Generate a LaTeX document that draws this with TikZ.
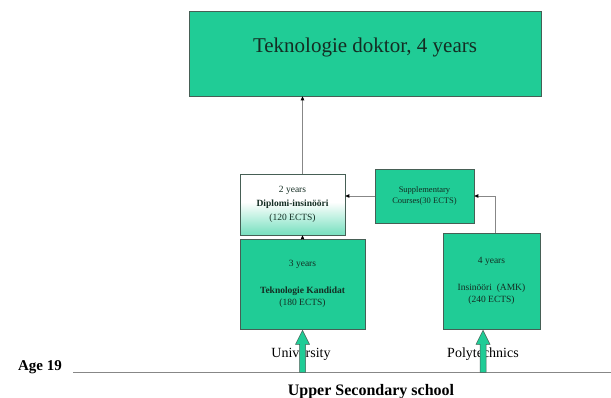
\documentclass[tikz,border=0pt]{standalone}
\usepackage{fontspec}
\setmainfont{Liberation Serif}
\usetikzlibrary{arrows.meta,calc}
\definecolor{boxgreen}{RGB}{32,204,150}
\definecolor{boxedge}{RGB}{70,95,85}
\definecolor{inktext}{RGB}{20,45,35}
\definecolor{rulegray}{RGB}{135,135,135}
% white on top fading into green near the bottom edge
\pgfdeclareverticalshading{dipshade}{100bp}{color(0bp)=(boxgreen); color(28bp)=(boxgreen!55!white); color(52bp)=(white); color(100bp)=(white)}
\begin{document}
\begin{tikzpicture}[x=1pt,y=-1pt,
  box/.style={draw=boxedge, line width=0.6pt, fill=boxgreen, inner sep=0pt,
    align=center, text=inktext, font=\fontsize{9.5}{11}\selectfont},
  thinarrow/.style={draw=rulegray, line width=0.8pt,
    -{Triangle[length=4pt,width=3.5pt,color=black]}},
  greenarrow/.style={fill=boxgreen, draw=boxedge, line width=0.5pt},
  pathlabel/.style={font=\fontsize{14}{16}\selectfont, text=black}]
\useasboundingbox (0,0) rectangle (611,397);
\fill[white] (0,0) rectangle (611,397);

% doctoral level
\node[box, minimum width=352pt, minimum height=85pt] (doc) at (365,53.5) {};
\node[font=\fontsize{21}{24}\selectfont, text=inktext] (doctxt) at (365,47) {Teknologie doktor, 4 years};

% master level
\node[box, shading=dipshade, minimum width=105pt, minimum height=61pt] (dip) at (292.5,204.5)
  {2 years\\[3pt]\textbf{Diplomi-insinööri}\\[3pt](120 ECTS)};
\node[box, minimum width=99pt, minimum height=54pt, font=\fontsize{8.5}{11}\selectfont] (supp) at (424.5,196)
  {Supplementary\\Courses(30 ECTS)};

% bachelor level
\node[box, minimum width=125pt, minimum height=90pt] (kand) at (302.5,284)
  {3 years\\[16pt]\textbf{Teknologie Kandidat}\\[1pt](180 ECTS)};
\node[box, minimum width=97pt, minimum height=96pt] (poly) at (491.5,281)
  {4 years\\[16pt]Insinööri\ \ (AMK)\\[1pt](240 ECTS)};

% progression arrows
\draw[thinarrow] (dip.north -| kand.north) -- (doc.south -| kand.north);
\draw[thinarrow] (kand.north) -- (dip.south -| kand.north);
\draw[thinarrow] ($(poly.north)+(3.5,0)$) |- (supp.east);
\draw[thinarrow] (supp.west) -- (supp.west -| dip.east);

% age line and school level
\node[font=\bfseries\fontsize{15}{18}\selectfont, text=black] (age) at (40,367) {Age 19};
\coordinate (lineL) at (73,372);
\coordinate (lineR) at (611,372);
\draw[draw=rulegray, line width=1pt] (lineL) -- (lineR);
\node[font=\bfseries\fontsize{16}{19}\selectfont, text=black, anchor=base] (school) at (371,395) {Upper Secondary school};

% entry routes
\node[pathlabel] (uni) at (301,354) {University};
\node[pathlabel] (polyt) at (483,354) {Polytechnics};
\begin{scope}[shift={(kand.south)}]
  \draw[greenarrow] (-3,43) -- (-3,15) -- (-7,15) -- (0,1) -- (7,15) -- (3,15) -- (3,43) -- cycle;
\end{scope}
\begin{scope}[shift={($(poly.south)+(-8.5,0)$)}]
  \draw[greenarrow] (-3,43) -- (-3,15) -- (-7,15) -- (0,1) -- (7,15) -- (3,15) -- (3,43) -- cycle;
\end{scope}
\end{tikzpicture}
\end{document}
